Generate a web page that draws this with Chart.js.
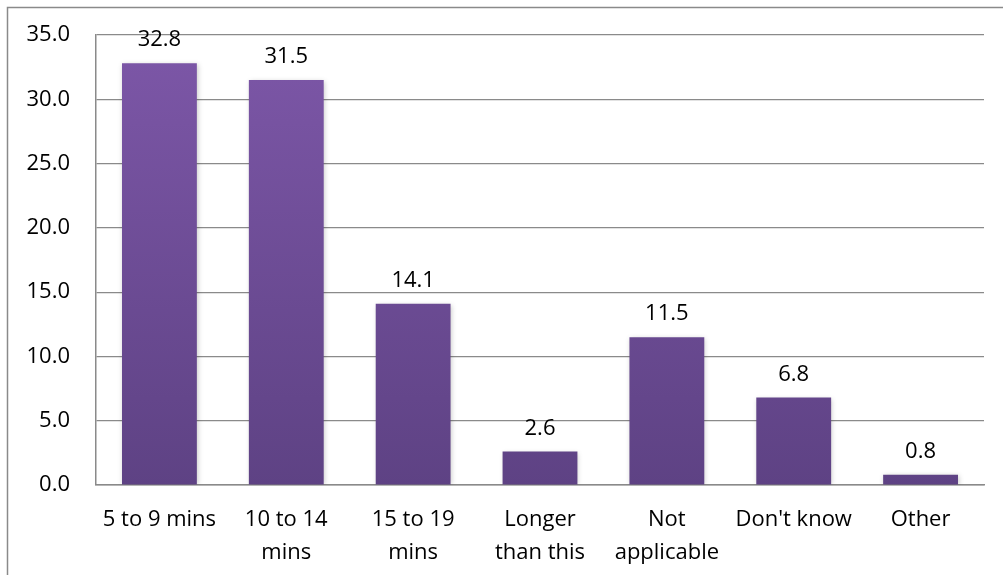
<!DOCTYPE html>
<html>
<head>
<meta charset="utf-8">
<script src="https://cdn.jsdelivr.net/npm/chart.js@4"></script>
<style>
  html, body { margin: 0; padding: 0; background: #fff; }
  #wrap { width: 1003px; height: 575px; position: relative; }
</style>
</head>
<body>
<div id="wrap"><canvas id="myBarChart"></canvas></div>
<script>
const categories = [
    ["5 to 9 mins"],
    ["10 to 14", "mins"],
    ["15 to 19", "mins"],
    ["Longer", "than this"],
    ["Not", "applicable"],
    ["Don't know"],
    ["Other"]
];
const percentValues = [32.8, 31.5, 14.1, 2.6, 11.5, 6.8, 0.8];
const yTicks = [0, 5, 10, 15, 20, 25, 30, 35];

const FONT = "'Open Sans', 'Noto Sans', sans-serif";
const FONT_SIZE = 22;

// moldura cinza à volta do gráfico (só esquerda e topo ficam visíveis)
const framePlugin = {
    id: 'frame',
    beforeDraw(chart) {
        const ctx = chart.ctx;
        ctx.save();
        ctx.strokeStyle = '#8a8a8a';
        ctx.lineWidth = 1.5;
        ctx.beginPath();
        ctx.moveTo(7.5, chart.height + 2);
        ctx.lineTo(7.5, 7.5);
        ctx.lineTo(chart.width + 2, 7.5);
        ctx.stroke();
        ctx.restore();
    }
};

// sombra leve nas barras
const barShadow = {
    id: 'barShadow',
    beforeDatasetsDraw(chart) {
        chart.ctx.save();
        chart.ctx.shadowColor = 'rgba(0,0,0,0.22)';
        chart.ctx.shadowBlur = 5;
        chart.ctx.shadowOffsetX = 1;
        chart.ctx.shadowOffsetY = 1;
    },
    afterDatasetsDraw(chart) {
        chart.ctx.restore();
    }
};

// rótulos com o valor por cima de cada barra
const valueLabels = {
    id: 'valueLabels',
    afterDatasetsDraw(chart) {
        const ctx = chart.ctx;
        const meta = chart.getDatasetMeta(0);
        ctx.save();
        ctx.font = FONT_SIZE + 'px ' + FONT;
        ctx.fillStyle = '#000';
        ctx.textAlign = 'center';
        ctx.textBaseline = 'alphabetic';
        meta.data.forEach(function(bar, i) {
            ctx.fillText(percentValues[i].toFixed(1), bar.x, bar.y - 17);
        });
        ctx.restore();
    }
};

function barGradient(context) {
    const area = context.chart.chartArea;
    if (!area) return '#6f4d99';
    const g = context.chart.ctx.createLinearGradient(0, area.top, 0, area.bottom);
    g.addColorStop(0, '#7d57a8');
    g.addColorStop(1, '#5e4284');
    return g;
}

const ctx = document.getElementById('myBarChart').getContext('2d');
new Chart(ctx, {
    type: 'bar',
    data: {
        labels: categories,
        datasets: [{
            data: percentValues,
            backgroundColor: barGradient,
            borderWidth: 0,
            barPercentage: 0.59,
            categoryPercentage: 1.0
        }]
    },
    options: {
        responsive: true,
        maintainAspectRatio: false,
        animation: false,
        layout: { padding: { top: 35, right: 19, left: 0, bottom: 0 } },
        plugins: {
            legend: { display: false },
            tooltip: { enabled: false }
        },
        scales: {
            x: {
                grid: { display: false, drawTicks: false },
                border: { color: '#8a8a8a', width: 1.5 },
                ticks: {
                    color: '#000',
                    font: { family: FONT, size: FONT_SIZE, lineHeight: 1.5 },
                    padding: 18,
                    maxRotation: 0,
                    autoSkip: false
                },
                afterFit(scale) {
                    scale.height = 90;
                    scale.paddingLeft = 0;
                    scale.paddingRight = 0;
                }
            },
            y: {
                min: 0,
                max: 35,
                afterBuildTicks(scale) {
                    scale.ticks = yTicks.map(v => ({ value: v }));
                },
                grid: { color: '#8a8a8a', lineWidth: 1.2, drawTicks: false },
                border: { color: '#8a8a8a', width: 1.5 },
                ticks: {
                    color: '#000',
                    font: { family: FONT, size: FONT_SIZE },
                    padding: 26,
                    callback: v => Number(v).toFixed(1)
                },
                afterFit(scale) {
                    scale.width = 96;
                    scale.paddingTop = 0;
                    scale.paddingBottom = 0;
                }
            }
        }
    },
    plugins: [framePlugin, barShadow, valueLabels]
});
</script>
</body>
</html>
